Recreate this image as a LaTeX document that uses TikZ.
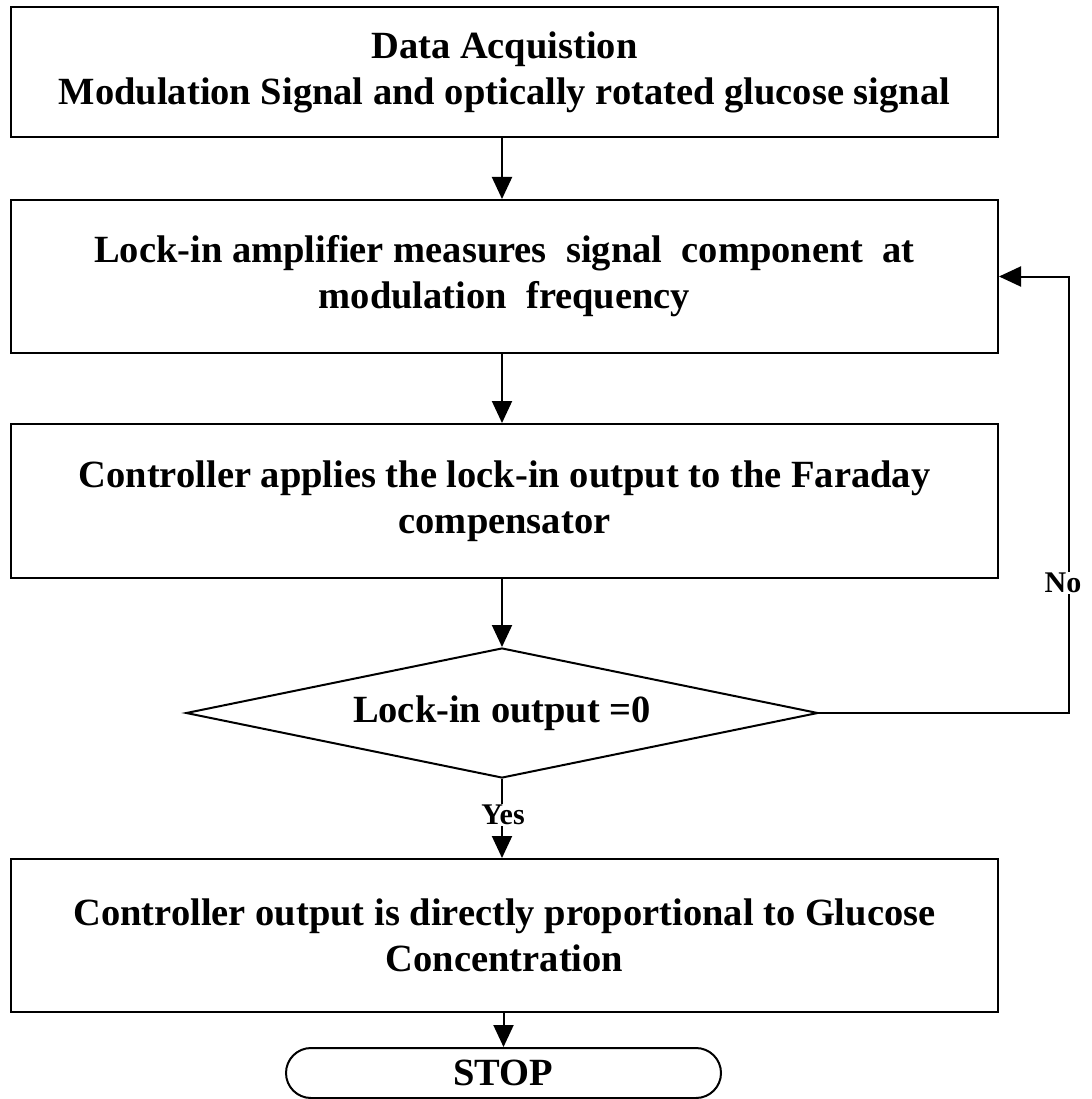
\documentclass[tikz,border=0pt]{standalone}
\usepackage{fontspec}
\setmainfont{Liberation Serif}
\usetikzlibrary{arrows.meta,shapes.geometric}
\begin{document}
\begin{tikzpicture}[x=1pt,y=-1pt,line width=2pt,
  box/.style={draw,rectangle,minimum width=987pt,align=center,inner sep=0pt,
    font=\bfseries\fontsize{38.5}{46}\selectfont},
  arr/.style={-{Triangle[length=22pt,width=20pt]}},
  lbl/.style={fill=white,inner sep=1pt,font=\bfseries\fontsize{30}{34}\selectfont}]
\useasboundingbox (0,0) rectangle (1091,1099);
\node[box,minimum height=130pt] (b1) at (504.5,72)
  {Data Acquistion\\Modulation Signal and optically rotated glucose signal};
\node[box,minimum height=153pt] (b2) at (504.5,276.5)
  {Lock-in amplifier measures\ \ signal\ \ component\ \ at\\modulation\ \ frequency};
\node[box,minimum height=154pt] (b3) at (504.5,501)
  {Controller applies the lock-in output to the Faraday\\compensator};
\node[draw,diamond,minimum width=632pt,minimum height=130pt,inner sep=0pt] (d) at (502,713) {};
\node[font=\bfseries\fontsize{38.5}{46}\selectfont,inner sep=0pt] (dt) at (d.center) {Lock-in output =0};
\node[box,minimum height=153pt] (b4) at (504.5,935.5)
  {Controller output is directly proportional to Glucose\\Concentration};
\node[draw,rectangle,rounded corners=25pt,minimum width=435pt,minimum height=50pt,inner sep=0pt,
  font=\bfseries\fontsize{38.5}{46}\selectfont] (stop) at (503.5,1073) {STOP};
\coordinate (fb) at (1069,713);
\draw[arr] (b1.south -| d.north) -- (b2.north -| d.north);
\draw[arr] (b2.south -| d.north) -- (b3.north -| d.north);
\draw[arr] (b3.south -| d.north) -- (d.north);
\draw[arr] (d.south) -- (b4.north -| d.south);
\draw[arr] (b4.south -| stop.north) -- (stop.north);
\draw[arr] (d.east) -- (fb) |- (b2.east);
\node[lbl] (yes) at (503,815) {Yes};
\node[lbl] (no) at (1063,583) {No};
\end{tikzpicture}
\end{document}
